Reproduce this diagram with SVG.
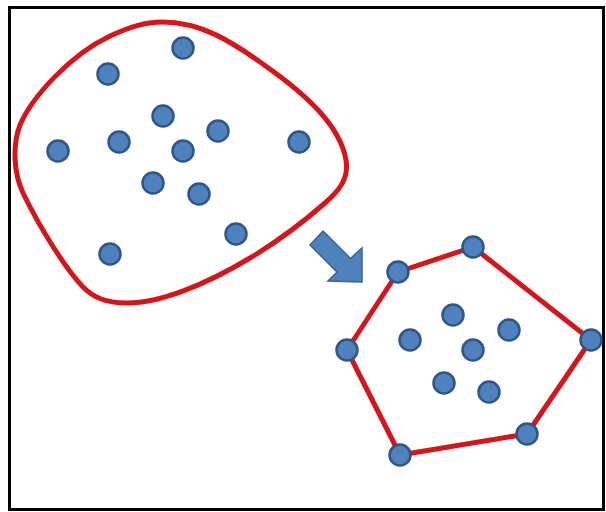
<svg xmlns="http://www.w3.org/2000/svg" width="606" height="512" viewBox="0 0 606 512">
<style>
.dot{fill:#4f81bd;stroke:#2f5688;stroke-width:2.5}
.red{fill:none;stroke:#d7141a;stroke-width:5;stroke-linejoin:round}
</style>
<rect x="0" y="0" width="606" height="512" fill="#ffffff"/>
<rect x="9.5" y="7.5" width="594" height="502" fill="#ffffff" stroke="#000000" stroke-width="3"/>
<g id="blob">
<path class="red" d="M162,22 C200,22 230,40 267,67 C305,94 340,125 346,160 C349,178 340,190 325,203 C300,225 280,240 250,258 C205,285 160,303 127,303 C105,303 93,297 83,287 C65,268 40,228 23,193 C14,174 12,146 20,125 C32,97 70,55 110,36 C130,27 145,22 162,22 Z"/>
</g>
<g id="cloud-points">
<circle class="dot" cx="183" cy="48" r="10.5"/>
<circle class="dot" cx="108" cy="74" r="10.5"/>
<circle class="dot" cx="163" cy="116" r="10.5"/>
<circle class="dot" cx="218" cy="131" r="10.5"/>
<circle class="dot" cx="119" cy="142" r="10.5"/>
<circle class="dot" cx="183" cy="151" r="10.5"/>
<circle class="dot" cx="58" cy="151" r="10.5"/>
<circle class="dot" cx="299" cy="142" r="10.5"/>
<circle class="dot" cx="153" cy="183" r="10.5"/>
<circle class="dot" cx="199" cy="194" r="10.5"/>
<circle class="dot" cx="236" cy="234" r="10.5"/>
<circle class="dot" cx="110" cy="254" r="10.5"/>
</g>
<g id="arrow">
<polygon points="323,231 350.5,258.5 362,248 362,282 328,281 337,272 310,245" fill="#4f81bd" stroke="#3a6196" stroke-width="1.5" stroke-linejoin="miter"/>
</g>
<g id="connectors">
<polygon class="red" points="398,272 473,247 591,340 527,434 400,455 347,350"/>
</g>
<g id="hull-points">
<circle class="dot" cx="398" cy="272" r="10.5"/>
<circle class="dot" cx="473" cy="247" r="10.5"/>
<circle class="dot" cx="591" cy="340" r="10.5"/>
<circle class="dot" cx="527" cy="434" r="10.5"/>
<circle class="dot" cx="400" cy="455" r="10.5"/>
<circle class="dot" cx="347" cy="350" r="10.5"/>
</g>
<g id="inner-points">
<circle class="dot" cx="453" cy="315" r="10.5"/>
<circle class="dot" cx="410" cy="340" r="10.5"/>
<circle class="dot" cx="509" cy="330" r="10.5"/>
<circle class="dot" cx="473" cy="350" r="10.5"/>
<circle class="dot" cx="444" cy="383" r="10.5"/>
<circle class="dot" cx="489" cy="392" r="10.5"/>
</g>
</svg>
